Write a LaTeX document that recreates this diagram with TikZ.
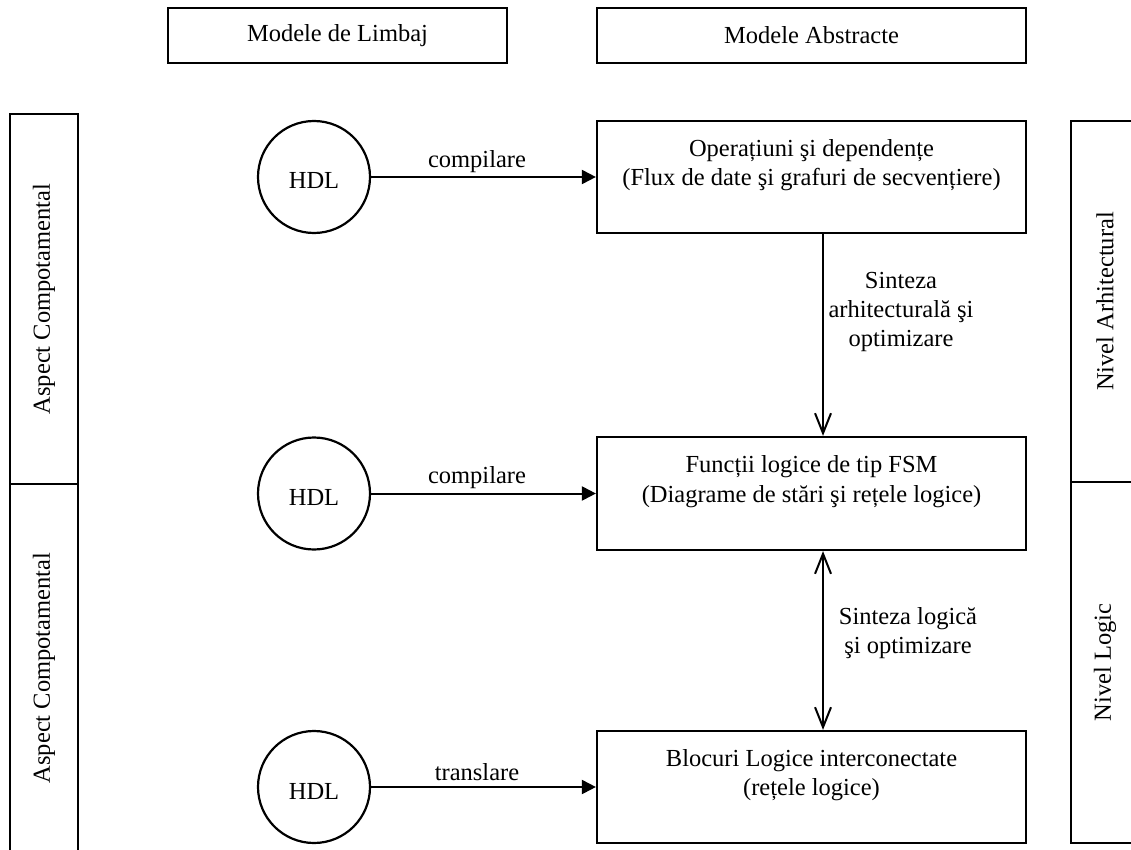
\documentclass[tikz,border=0pt]{standalone}
\usepackage{fontspec}
\setmainfont{Liberation Serif}
\usetikzlibrary{arrows.meta}
\begin{document}
\begin{tikzpicture}[x=1pt,y=-1pt, font=\fontsize{24.5}{29.4}\selectfont,
  box/.style={draw, line width=2.2pt, rectangle, align=center, inner sep=0pt},
  side/.style={draw, line width=2.2pt, rectangle, rotate=90, minimum height=68pt, inner sep=0pt},
  circ/.style={draw, line width=2.2pt, circle, minimum size=112pt, inner sep=0pt, text height=24pt, text depth=0pt},
  harrow/.style={line width=2pt, -{Triangle[length=14pt,width=14pt]}},
  vtip/.tip={Stealth[length=22pt,width=15pt,inset=7pt,open,round]},
  varrow/.style={line width=2pt, -{Straight Barb[length=20pt,width=16pt,line width=2pt]}},
  darrow/.style={line width=2pt, {Straight Barb[length=20pt,width=16pt,line width=2pt]}-{Straight Barb[length=20pt,width=16pt,line width=2pt]}},
  lbl/.style={inner sep=0pt, align=center}]
\path[use as bounding box] (0,0) rectangle (1131,850);
\clip (0,0) rectangle (1131,850);
\fill[white] (0,0) rectangle (1131,850);

% header boxes
\node[box, minimum width=339pt, minimum height=55pt] (ml) at (337.5,35.5) {Modele de Limbaj};
\node[box, minimum width=429pt, minimum height=55pt] (ma) at (811.5,35.5) {Modele Abstracte};

% side boxes
\node[side, minimum width=370pt] (asp1) at (44,299) {Aspect Compotamental};
\node[side, minimum width=368pt] (asp2) at (44,668) {Aspect Compotamental};
\node[side, minimum width=361pt] (na) at (1105,301.5) {Nivel Arhitectural};
\node[side, minimum width=361pt] (nl) at (1105,662.5) {Nivel Logic};

% HDL circles
\node[circ] (h1) at (314,177) {HDL};
\node[circ] (h2) at (314,493.5) {HDL};
\node[circ] (h3) at (314,787) {HDL};

% main boxes
\node[box, minimum width=429pt, minimum height=112pt] (op) at (811.5,177)
  {Operațiuni şi dependențe\\(Flux de date şi grafuri de secvențiere)\\\mbox{}};
\node[box, minimum width=429pt, minimum height=113pt] (fsm) at (811.5,493.5)
  {Funcții logice de tip FSM\\(Diagrame de stări şi rețele logice)\\\mbox{}};
\node[box, minimum width=429pt, minimum height=112pt] (bl) at (811.5,787)
  {Blocuri Logice interconectate\\(rețele logice)\\\mbox{}};

% horizontal arrows
\draw[harrow] (h1) -- (op);
\draw[harrow] (h2) -- (fsm);
\draw[harrow] (h3) -- (bl);
\node[lbl] (c1) at (477,162) {compilare};
\node[lbl] (c2) at (477,478) {compilare};
\node[lbl] (c3) at (477,772) {translare};

% vertical arrows
\draw[varrow] ([xshift=11.5pt]op.south) -- ([xshift=11.5pt]fsm.north);
\draw[darrow] ([xshift=11.5pt]fsm.south) -- ([xshift=11.5pt]bl.north);
\node[lbl] (s1) at (901,312) {Sinteza\\arhitecturală şi\\optimizare};
\node[lbl] (s2) at (908,633) {Sinteza logică\\şi optimizare};
\end{tikzpicture}
\end{document}
